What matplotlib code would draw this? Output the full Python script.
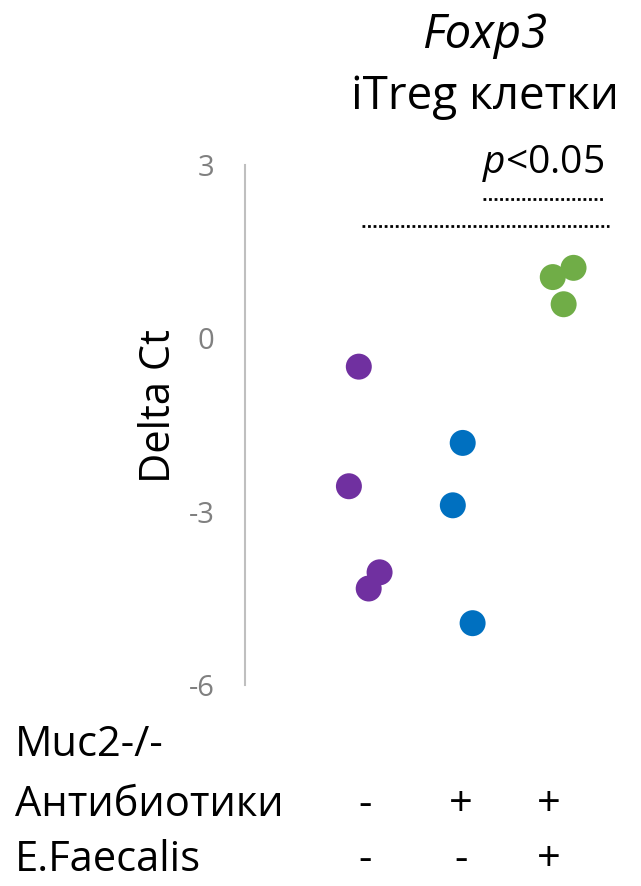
import matplotlib
matplotlib.use("Agg")
import matplotlib.pyplot as plt
import matplotlib.transforms as mtransforms

plt.rcParams['font.family'] = ['Open Sans', 'DejaVu Sans']
plt.rcParams['axes.unicode_minus'] = False
plt.rcParams['mathtext.fontset'] = 'custom'
plt.rcParams['mathtext.rm'] = 'Open Sans'
plt.rcParams['mathtext.it'] = 'Open Sans:italic'

# Delta Ct values per group
group_names = ["Muc2-/-", "Muc2-/- + антибиотики", "Muc2-/- + антибиотики + E.faecalis"]
group_positions = [1, 2, 3]
purple_vals = [-0.49, -2.56, -4.05, -4.33]
purple_jitter = [-0.03, -0.13, 0.18, 0.07]
blue_vals = [-1.81, -2.89, -4.93]
blue_jitter = [0.02, -0.08, 0.12]
green_vals = [1.06, 1.22, 0.59]
green_jitter = [-0.07, 0.14, 0.04]
colors = ["#7030A0", "#0070C0", "#70AD47"]

yticks = [3, 0, -3, -6]
ytick_labels = ["3", "0", "-3", "-6"]

# condition table under the plot
row_labels = ["Muc2-/-", "Антибиотики", "E.Faecalis"]
antibiotics = ["-", "+", "+"]
faecalis = ["-", "-", "+"]

# significance bars (y level, x start, x end)
sig_lines = [(1.94, 1.0, 3.5), (2.41, 2.22, 3.45)]

W, H = 641, 886
fig = plt.figure(figsize=(W / 100, H / 100), dpi=100)
ax = fig.add_axes([245 / W, 1 - 685 / H, 380 / W, 520 / H])

for vals, jit, pos, col in zip([purple_vals, blue_vals, green_vals],
                               [purple_jitter, blue_jitter, green_jitter],
                               group_positions, colors):
    xs = [pos + j for j in jit]
    ax.scatter(xs, vals, s=350, color=col, edgecolors='none', zorder=3)

for y, x0, x1 in sig_lines:
    ax.plot([x0, x1], [y, y], color='black', linestyle=(0, (1, 1)), linewidth=2)

ax.text(2.83, 3.03, r"$\it{p}$<0.05", ha='center', va='center', fontsize=28, color='black')

ax.set_ylim(-6, 3)
ax.set_xlim(-0.18, 3.66)
ax.set_yticks(yticks)
ax.set_yticklabels(ytick_labels)
ax.set_xticks([])
ax.tick_params(axis='y', length=0, pad=22, labelsize=21, labelcolor='#808080')
for side in ['top', 'right', 'bottom']:
    ax.spines[side].set_visible(False)
ax.spines['left'].set_color('#BFBFBF')
ax.spines['left'].set_linewidth(1.5)

fig.text(159 / W, 1 - 406 / H, "Delta Ct", ha='center', va='center', rotation=90, fontsize=30)

fig.text(485 / W, 1 - 35 / H, "Foxp3", ha='center', va='center', fontsize=34, style='italic')
fig.text(485 / W, 1 - 97 / H, "iTreg клетки", ha='center', va='center', fontsize=33)

# condition table
row_y = [745, 805, 860]
for lbl, yp in zip(row_labels, row_y):
    fig.text(15 / W, 1 - yp / H, lbl, ha='left', va='center', fontsize=30)

trans = mtransforms.blended_transform_factory(ax.transData, fig.transFigure)
symbol_x = [1.03, 2.0, 2.89]
for sx, a, f in zip(symbol_x, antibiotics, faecalis):
    ax.text(sx, 1 - row_y[1] / H, a, transform=trans, ha='center', va='center', fontsize=30)
    ax.text(sx, 1 - row_y[2] / H, f, transform=trans, ha='center', va='center', fontsize=30)

fig.savefig("out.png", dpi=100)
